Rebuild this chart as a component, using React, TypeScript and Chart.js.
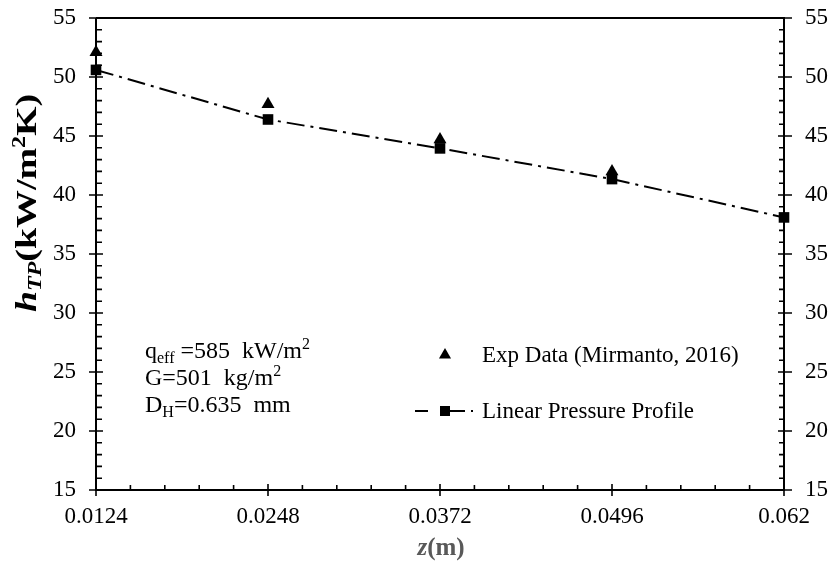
import React, { useEffect, useRef } from "react";
import { Chart, registerables } from "chart.js";

Chart.register(...registerables);

const zTicks = [0.0124, 0.0248, 0.0372, 0.0496, 0.062];
const zTickLabels = ["0.0124", "0.0248", "0.0372", "0.0496", "0.062"];
const yTicks = [15, 20, 25, 30, 35, 40, 45, 50, 55];

const expZ = [0.0124, 0.0248, 0.0372, 0.0496];
const expH = [52.1, 47.7, 44.7, 42.0];

const linZ = [0.0124, 0.0248, 0.0372, 0.0496, 0.062];
const linH = [50.6, 46.4, 43.95, 41.35, 38.1];

const expLabel = "Exp Data (Mirmanto, 2016)";
const linLabel = "Linear Pressure Profile";

const FONT = "'Liberation Serif', 'Times New Roman', serif";

type Run = { t: string; style?: string; weight?: string; size: number; dy?: number };

function measureRuns(ctx: CanvasRenderingContext2D, runs: Run[]) {
  return runs.map((r) => {
    ctx.font = `${r.style || "normal"} ${r.weight || "normal"} ${r.size}px ${FONT}`;
    return ctx.measureText(r.t).width;
  });
}

function drawRuns(ctx: CanvasRenderingContext2D, runs: Run[], x: number, y: number, align: "left" | "center", color: string) {
  const widths = measureRuns(ctx, runs);
  const total = widths.reduce((a, b) => a + b, 0);
  let cx = align === "center" ? x - total / 2 : x;
  ctx.fillStyle = color;
  ctx.textBaseline = "alphabetic";
  ctx.textAlign = "left";
  runs.forEach((r, i) => {
    ctx.font = `${r.style || "normal"} ${r.weight || "normal"} ${r.size}px ${FONT}`;
    ctx.fillText(r.t, cx, y + (r.dy || 0));
    cx += widths[i];
  });
}

const decorPlugin = {
  id: "decor",
  afterDraw(chart: any) {
    const ctx: CanvasRenderingContext2D = chart.ctx;
    const { left, right, top, bottom } = chart.chartArea;
    const x = chart.scales.x;
    const y = chart.scales.y;
    ctx.save();
    ctx.strokeStyle = "#000";
    ctx.lineWidth = 2;
    ctx.beginPath();
    ctx.moveTo(left, top);
    ctx.lineTo(left, bottom);
    ctx.lineTo(right, bottom);
    ctx.lineTo(right, top);
    ctx.lineTo(left, top);
    ctx.stroke();

    ctx.lineWidth = 1.6;
    ctx.beginPath();
    for (let i = 0; i < zTicks.length; i++) {
      const px = x.getPixelForValue(zTicks[i]);
      ctx.moveTo(px, bottom - 6);
      ctx.lineTo(px, bottom + 6);
      if (i < zTicks.length - 1) {
        const step = (zTicks[i + 1] - zTicks[i]) / 5;
        for (let k = 1; k < 5; k++) {
          const mx = x.getPixelForValue(zTicks[i] + step * k);
          ctx.moveTo(mx, bottom);
          ctx.lineTo(mx, bottom - 5);
        }
      }
    }
    for (let i = 0; i < yTicks.length; i++) {
      const py = y.getPixelForValue(yTicks[i]);
      ctx.moveTo(left - 7, py);
      ctx.lineTo(left + 7, py);
      ctx.moveTo(right - 6, py);
      ctx.lineTo(right + 8, py);
      if (i < yTicks.length - 1) {
        for (let k = 1; k < 5; k++) {
          const my = y.getPixelForValue(yTicks[i] + k);
          ctx.moveTo(left, my);
          ctx.lineTo(left + 6, my);
          ctx.moveTo(right, my);
          ctx.lineTo(right - 5, my);
        }
      }
    }
    ctx.stroke();

    // Y title (rotated, stretched to reference length)
    const yRuns: Run[] = [
      { t: "h", style: "italic", weight: "bold", size: 30, dy: 0 },
      { t: "TP", style: "italic", weight: "bold", size: 19, dy: 5 },
      { t: "(kW/m", weight: "bold", size: 30, dy: 0 },
      { t: "2", weight: "bold", size: 19, dy: -11 },
      { t: "K)", weight: "bold", size: 30, dy: 0 },
    ];
    const yw = measureRuns(ctx, yRuns).reduce((a, b) => a + b, 0);
    ctx.save();
    ctx.translate(36, 203);
    ctx.rotate(-Math.PI / 2);
    ctx.scale(218 / yw, 1);
    drawRuns(ctx, yRuns, 0, 0, "center", "#000");
    ctx.restore();

    // X title
    drawRuns(
      ctx,
      [
        { t: "z", style: "italic", weight: "bold", size: 25 },
        { t: "(m)", weight: "bold", size: 25 },
      ],
      441,
      555,
      "center",
      "#595959"
    );

    // Annotations
    drawRuns(ctx, [
      { t: "q", size: 24 },
      { t: "eff", size: 16, dy: 5 },
      { t: " =585  kW/m", size: 24 },
      { t: "2", size: 16, dy: -9 },
    ], 145, 358, "left", "#000");
    drawRuns(ctx, [
      { t: "G=501  kg/m", size: 24 },
      { t: "2", size: 16, dy: -9 },
    ], 145, 385, "left", "#000");
    drawRuns(ctx, [
      { t: "D", size: 24 },
      { t: "H", size: 16, dy: 5 },
      { t: "=0.635  mm", size: 24 },
    ], 145, 412, "left", "#000");

    // Legend
    ctx.fillStyle = "#000";
    const tx = 445, ty = 355, tr = 7;
    ctx.beginPath();
    ctx.moveTo(tx, ty - tr);
    ctx.lineTo(tx + tr * 0.866, ty + tr * 0.5);
    ctx.lineTo(tx - tr * 0.866, ty + tr * 0.5);
    ctx.closePath();
    ctx.fill();
    ctx.font = `normal normal 23px ${FONT}`;
    ctx.textBaseline = "alphabetic";
    ctx.textAlign = "left";
    ctx.fillText(expLabel, 482, 362);
    const ly = 411;
    ctx.strokeStyle = "#000";
    ctx.lineWidth = 2;
    ctx.beginPath();
    ctx.moveTo(415, ly);
    ctx.lineTo(428, ly);
    ctx.moveTo(450, ly);
    ctx.lineTo(465, ly);
    ctx.moveTo(471, ly);
    ctx.lineTo(473, ly);
    ctx.stroke();
    ctx.fillRect(440, ly - 5, 10, 10);
    ctx.fillText(linLabel, 482, 418);
    ctx.restore();
  },
};

const zeroPad = (s: any) => {
  s.paddingTop = 0;
  s.paddingBottom = 0;
  s.paddingLeft = 0;
  s.paddingRight = 0;
};

export default function App() {
  const ref = useRef<HTMLCanvasElement | null>(null);
  useEffect(() => {
    if (!ref.current) return;
    const chart = new Chart(ref.current, {
      type: "scatter",
      data: {
        datasets: [
          {
            label: expLabel,
            data: expZ.map((z, i) => ({ x: z, y: expH[i] })),
            pointStyle: "triangle",
            pointRadius: 7.5,
            backgroundColor: "#000",
            borderColor: "#000",
            borderWidth: 0,
            showLine: false,
            clip: false as any,
          },
          {
            label: linLabel,
            data: linZ.map((z, i) => ({ x: z, y: linH[i] })),
            pointStyle: "rect",
            pointRadius: 7.5,
            backgroundColor: "#000",
            pointBorderWidth: 0,
            borderColor: "#000",
            borderWidth: 2,
            borderDash: [18, 6, 3, 6],
            showLine: true,
            tension: 0,
            clip: false as any,
          },
        ],
      },
      options: {
        responsive: false,
        animation: false,
        devicePixelRatio: 1,
        layout: { padding: { top: 18, left: 0, right: 0, bottom: 0 } },
        plugins: { legend: { display: false }, tooltip: { enabled: false } },
        scales: {
          x: {
            type: "linear",
            min: 0.0124,
            max: 0.062,
            grid: { display: false, drawTicks: false },
            border: { display: false },
            afterBuildTicks: (s: any) => {
              s.ticks = zTicks.map((v) => ({ value: v }));
            },
            afterFit: (s: any) => {
              s.height = 71;
              zeroPad(s);
            },
            ticks: {
              padding: 13,
              color: "#000",
              font: { family: FONT, size: 23 },
              maxRotation: 0,
              autoSkip: false,
              callback: (_v: any, i: number) => zTickLabels[i],
            },
          },
          y: {
            type: "linear",
            position: "left",
            min: 15,
            max: 55,
            grid: { display: false, drawTicks: false },
            border: { display: false },
            afterBuildTicks: (s: any) => {
              s.ticks = yTicks.map((v) => ({ value: v }));
            },
            afterFit: (s: any) => {
              s.width = 96;
              zeroPad(s);
            },
            ticks: {
              padding: 20,
              color: "#000",
              font: { family: FONT, size: 23 },
              callback: (v: any) => String(v),
            },
          },
          y2: {
            type: "linear",
            position: "right",
            min: 15,
            max: 55,
            grid: { display: false, drawTicks: false },
            border: { display: false },
            afterBuildTicks: (s: any) => {
              s.ticks = yTicks.map((v) => ({ value: v }));
            },
            afterFit: (s: any) => {
              s.width = 46;
              zeroPad(s);
            },
            ticks: {
              padding: 21,
              color: "#000",
              font: { family: FONT, size: 23 },
              callback: (v: any) => String(v),
            },
          },
        },
      },
      plugins: [decorPlugin],
    } as any);
    return () => chart.destroy();
  }, []);
  return (
    <div style={{ position: "fixed", left: 0, top: 0, width: 830, height: 561, background: "#fff" }}>
      <canvas ref={ref} width={830} height={561} style={{ width: 830, height: 561, display: "block" }} />
    </div>
  );
}
